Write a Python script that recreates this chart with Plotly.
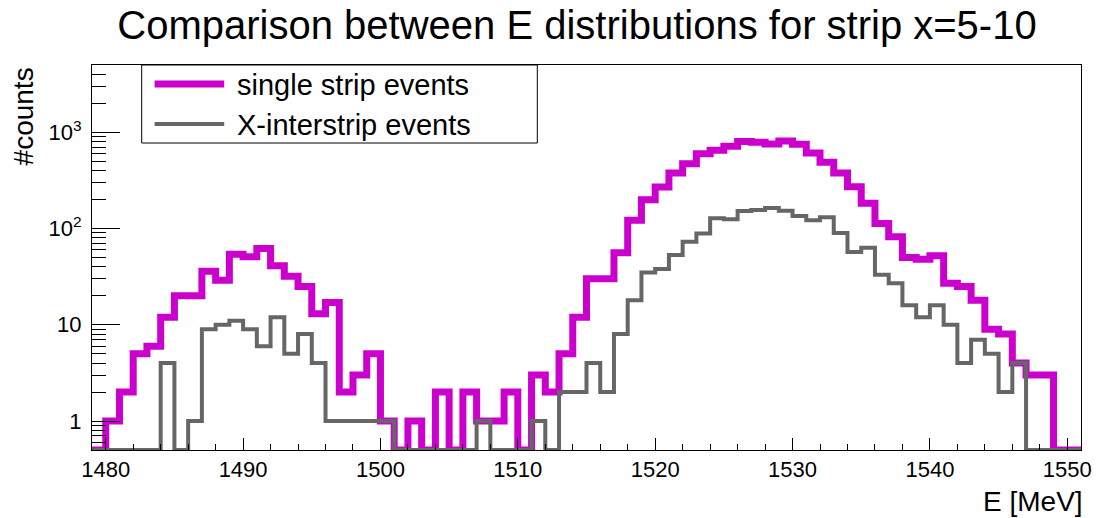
import numpy as np
import plotly.graph_objects as go

# Energy histogram: 1 MeV bins, lower edges 1479 ... 1550
bin_edges_low = list(range(1479, 1551))

single_strip = [
    0, 1, 2, 5, 6, 12, 20, 20, 36, 29,          # 1479-1488
    54, 51, 62, 41, 32, 25, 13, 17, 2, 3,       # 1489-1498
    5, 1, 0, 1, 0, 2, 0, 2, 1, 1,               # 1499-1508
    2, 0, 3, 2, 5, 12, 30, 30, 56, 122,         # 1509-1518
    199, 270, 377, 471, 599, 649, 714, 800, 790, 755,   # 1519-1528
    810, 750, 609, 487, 377, 272, 183, 113, 82, 50,     # 1529-1538
    48, 52, 27, 25, 18, 9, 8, 4, 3, 3,          # 1539-1548
    0, 0,                                       # 1549-1550
]

x_interstrip = [
    0, 0, 0, 0, 0, 4, 0, 1, 9, 10,              # 1479-1488
    11, 9, 6, 12, 5, 8, 4, 1, 1, 1,             # 1489-1498
    1, 1, 0, 0, 0, 0, 0, 0, 1, 0,               # 1499-1508
    0, 0, 1, 0, 2, 2, 4, 2, 8, 18,              # 1509-1518
    35, 38, 53, 73, 89, 128, 125, 152, 156, 163,        # 1519-1528
    153, 135, 122, 131, 90, 57, 63, 33, 27, 16,         # 1529-1538
    12, 16, 10, 4, 7, 5, 2, 4, 0, 0,            # 1539-1548
    0, 0,                                       # 1549-1550
]

series_names = ["single strip events", "X-interstrip events"]
series_colors = ["#cc00cc", "#666666"]
series_widths = [7, 4]
y_tick_vals = [1, 10, 100, 1000]
y_tick_text = ["1", "10", "10<sup>2</sup>", "10<sup>3</sup>"]

Y_MIN, Y_MAX = 0.5, 5000
X_MIN, X_MAX = 1479, 1551
FONT = "Liberation Sans, Arial, Helvetica, sans-serif"

# plot frame in pixels
W, H = 1104, 518
L, R, T, B = 92, 17, 65, 68
PW, PH = W - L - R, H - T - B


def px_x(px):
    return (px - L) / PW


def px_y(py):
    return (H - B - py) / PH


def step_outline(counts):
    """Bin edges and clipped contents for an 'hv' step outline.
    Empty bins sit on the lower edge of the log axis."""
    lows = np.array(bin_edges_low, dtype=float)
    edges = np.append(lows, lows[-1] + 1.0)
    c = np.maximum(np.asarray(counts, dtype=float), Y_MIN)
    return edges, np.append(c, c[-1])


fig = go.Figure()
for counts, name, color, width in zip(
    [single_strip, x_interstrip], series_names, series_colors, series_widths
):
    xs, ys = step_outline(counts)
    fig.add_trace(go.Scatter(
        x=xs, y=ys, mode="lines", name=name, showlegend=False,
        line=dict(color=color, width=width, shape="hv"),
        hoverinfo="skip",
    ))

# minor ticks of the log axis: 2..9 in each decade
minor_vals = []
for dec in [0.1, 1, 10, 100, 1000]:
    for m in range(2, 10):
        v = m * dec
        if Y_MIN < v < Y_MAX:
            minor_vals.append(v)

# legend box drawn in the top-left corner of the frame
shapes = [dict(type="rect", xref="paper", yref="paper",
               x0=px_x(142), x1=px_x(540), y0=px_y(143), y1=px_y(65),
               line=dict(color="black", width=1), fillcolor="white",
               layer="above")]
annotations = []
for i, (name, color, width) in enumerate(zip(series_names, series_colors, series_widths)):
    yc = 84 + 40 * i
    shapes.append(dict(type="line", xref="paper", yref="paper",
                       x0=px_x(155), x1=px_x(225), y0=px_y(yc), y1=px_y(yc),
                       line=dict(color=color, width=width), layer="above"))
    annotations.append(dict(text=name, xref="paper", yref="paper",
                            x=px_x(236), y=px_y(yc + 1), xanchor="left",
                            yanchor="middle", showarrow=False,
                            font=dict(size=29)))

annotations += [
    dict(text="E [MeV]", xref="paper", yref="paper", x=1.0, y=px_y(501),
         xanchor="right", yanchor="middle", showarrow=False, xshift=4,
         font=dict(size=28)),
    dict(text="#counts", xref="paper", yref="paper", x=px_x(23), y=1.0,
         xanchor="center", yanchor="top", textangle=-90, showarrow=False,
         font=dict(size=28)),
]

fig.update_layout(
    width=W, height=H,
    margin=dict(l=L, r=R, t=T, b=B),
    paper_bgcolor="white", plot_bgcolor="white",
    showlegend=False,
    font=dict(family=FONT, color="black", size=22),
    title=dict(
        text="Comparison between E distributions for strip x=5-10",
        font=dict(family=FONT, size=40, color="black"),
        x=577 / W, xanchor="center", xref="container",
        y=1 - 25 / H, yanchor="middle", yref="container",
    ),
    xaxis=dict(
        range=[X_MIN, X_MAX], showgrid=False, zeroline=False,
        showline=True, linecolor="black", linewidth=1, mirror=True,
        ticks="inside", ticklen=12, tickcolor="black", tickwidth=1,
        tick0=1480, dtick=10,
        minor=dict(ticks="inside", ticklen=6, dtick=2, tick0=1480,
                   tickcolor="black", showgrid=False),
        tickfont=dict(size=22),
    ),
    yaxis=dict(
        type="log", range=[np.log10(Y_MIN), np.log10(Y_MAX)],
        showgrid=False, zeroline=False,
        showline=True, linecolor="black", linewidth=1, mirror=True,
        ticks="inside", ticklen=28, tickcolor="black", tickwidth=1,
        tickmode="array", tickvals=y_tick_vals, ticktext=y_tick_text,
        minor=dict(ticks="inside", ticklen=14, tickmode="array",
                   tickvals=minor_vals, tickcolor="black", showgrid=False),
        tickfont=dict(size=22), ticklabelstandoff=5,
    ),
    shapes=shapes,
    annotations=annotations,
)

fig.write_html("out.html")
